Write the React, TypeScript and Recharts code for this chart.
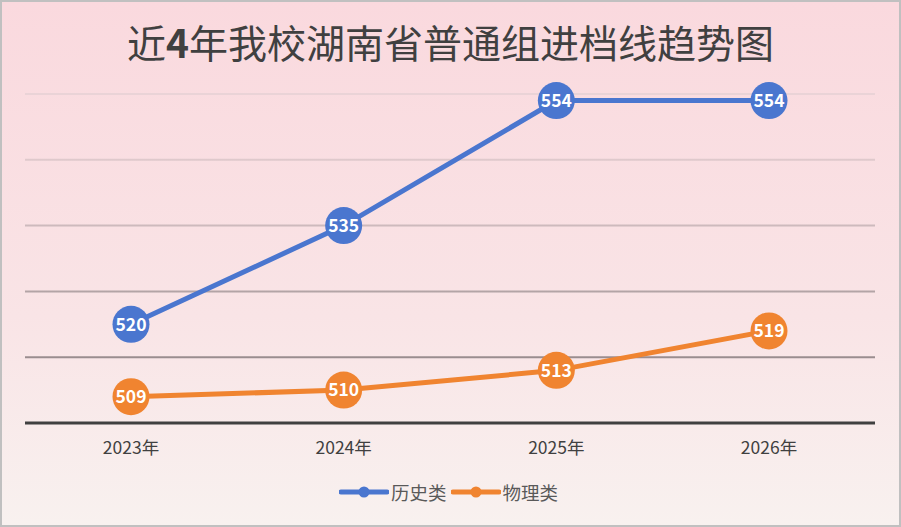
import React from "react";
import { LineChart, Line, XAxis, YAxis, CartesianGrid, LabelList } from "recharts";

const years = ["2023年", "2024年", "2025年", "2026年"];
const history = [520, 535, 554, 554];
const physics = [509, 510, 513, 519];
const yTicks = [505, 515, 525, 535, 545, 555];
const seriesNames = ["历史类", "物理类"];

const BLUE = "#4a76cf";
const ORANGE = "#f08430";
const FONT = "'Noto Sans CJK SC', 'Noto Sans', sans-serif";

const data = years.map((y, i) => ({ year: y, history: history[i], physics: physics[i] }));

const LegendItem = ({ color, label }: { color: string; label: string }) => (
  <div style={{ display: "flex", alignItems: "center", marginRight: 4 }}>
    <svg width={50} height={14}>
      <line x1={2} y1={7} x2={48} y2={7} stroke={color} strokeWidth={5} strokeLinecap="round" />
      <circle cx={25} cy={7} r={5.5} fill={color} />
    </svg>
    <span style={{ fontSize: 18.5, color: "#595959", marginLeft: 2 }}>{label}</span>
  </div>
);

export default function App() {
  return (
    <div
      style={{
        position: "fixed",
        left: 0,
        top: 0,
        width: 901,
        height: 527,
        boxSizing: "border-box",
        border: "2px solid #c0c0c0",
        background: "linear-gradient(to bottom, #fad9de 0%, #f9e4e6 60%, #f8f1ef 100%)",
        fontFamily: FONT,
        overflow: "hidden",
      }}
    >
      <div
        style={{
          position: "absolute",
          left: 0,
          top: 13,
          width: 897,
          textAlign: "center",
          fontSize: 39,
          color: "#404040",
          lineHeight: "52px",
        }}
      >
        近<b>4</b>年我校湖南省普通组进档线趋势图
      </div>
      <div style={{ position: "absolute", left: -2, top: -2 }}>
        <LineChart
          width={901}
          height={527}
          data={data}
          margin={{ top: 94, right: 26, bottom: 74, left: 25 }}
        >
          <defs>
            <linearGradient id="gridGrad" gradientUnits="userSpaceOnUse" x1={0} y1={94} x2={0} y2={423}>
              <stop offset="0%" stopColor="#ead3d7" />
              <stop offset="20%" stopColor="#dfc9cc" />
              <stop offset="40%" stopColor="#cdbabd" />
              <stop offset="60%" stopColor="#b3a4a6" />
              <stop offset="80%" stopColor="#9a8d8f" />
              <stop offset="100%" stopColor="#8a7e80" />
            </linearGradient>
          </defs>
          <CartesianGrid vertical={false} stroke="url(#gridGrad)" strokeWidth={2} />
          <XAxis
            dataKey="year"
            height={30}
            padding={{ left: 106, right: 106 }}
            axisLine={{ stroke: "#404040", strokeWidth: 3 }}
            tickLine={false}
            tickMargin={13}
            tick={{ fill: "#404040", fontSize: 17.5, fontFamily: FONT }}
          />
          <YAxis hide domain={[505, 555]} ticks={yTicks} />
          <Line
            dataKey="history"
            name={seriesNames[0]}
            stroke={BLUE}
            strokeWidth={5}
            dot={{ r: 18.5, fill: BLUE, stroke: "none" }}
            activeDot={false}
            isAnimationActive={false}
          >
            <LabelList
              dataKey="history"
              position="center"
              fill="#ffffff"
              fontSize={17.5}
              fontWeight="bold"
              fontFamily={FONT}
            />
          </Line>
          <Line
            dataKey="physics"
            name={seriesNames[1]}
            stroke={ORANGE}
            strokeWidth={5}
            dot={{ r: 18.5, fill: ORANGE, stroke: "none" }}
            activeDot={false}
            isAnimationActive={false}
          >
            <LabelList
              dataKey="physics"
              position="center"
              fill="#ffffff"
              fontSize={17.5}
              fontWeight="bold"
              fontFamily={FONT}
            />
          </Line>
        </LineChart>
      </div>
      <div
        style={{
          position: "absolute",
          left: 0,
          top: 477,
          width: 897,
          display: "flex",
          justifyContent: "center",
        }}
      >
        <LegendItem color={BLUE} label={seriesNames[0]} />
        <LegendItem color={ORANGE} label={seriesNames[1]} />
      </div>
    </div>
  );
}
